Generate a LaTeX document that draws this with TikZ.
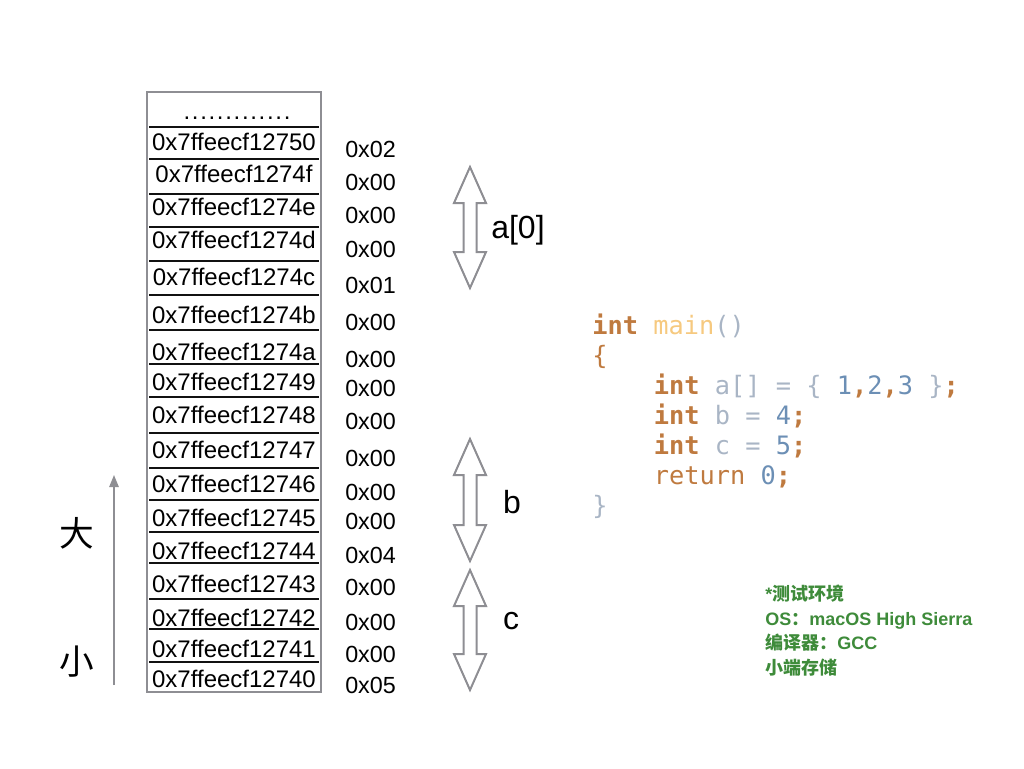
\documentclass[tikz,border=0pt]{standalone}
\usepackage{fontspec}
\setmainfont{Liberation Sans}
\setmonofont{DejaVu Sans Mono}
\newfontfamily\cjk{Noto Sans CJK SC}
\usetikzlibrary{arrows.meta}
\definecolor{MemInk}{HTML}{111111}
\definecolor{MemFrame}{HTML}{8E8E93}
\definecolor{CodeKey}{HTML}{BF7A3F}
\definecolor{CodeFunc}{HTML}{F6C97F}
\definecolor{CodePlain}{HTML}{A9B5C5}
\definecolor{CodeNum}{HTML}{6C8FB5}
\definecolor{NoteGreen}{HTML}{3E8B3A}
\tikzset{
  mem/frame/.style={draw=MemFrame, line width=1.5pt},
  mem/rule/.style={draw=MemInk, line width=1.4pt},
  mem/addr/.style={inner sep=0pt, anchor=base, font=\fontsize{18}{18}\selectfont},
  mem/val/.style={inner sep=0pt, anchor=base west, font=\fontsize{17.5}{17.5}\selectfont},
  mem/span/.style={draw=MemFrame, line width=1.5pt, line join=miter},
  mem/label/.style={inner sep=0pt, font=\fontsize{24}{24}\selectfont},
  mem/axis/.style={draw=MemFrame, line width=1.3pt, -{Triangle[length=9pt,width=7pt]}},
  mem/size/.style={inner sep=0pt, font=\cjk\fontsize{26}{26}\selectfont},
  code/line/.style={inner sep=0pt, anchor=base west, font=\ttfamily\fontsize{19}{19}\selectfont},
  note/line/.style={inner sep=0pt, anchor=base west, text=NoteGreen,
    font=\bfseries\fontsize{13.5}{13.5}\selectfont}
}
\newcommand\kw[1]{\textcolor{CodeKey}{\bfseries #1}}
\newcommand\num[1]{\textcolor{CodeNum}{#1}}
\newcommand\plain[1]{\textcolor{CodePlain}{#1}}

\begin{document}
\begin{tikzpicture}[x=0.75pt,y=-0.75pt]
  \useasboundingbox (0,0) rectangle (1024,768);
  \coordinate (stackNW) at (147,92);
  \coordinate (stackSE) at (321,692);
  \draw[mem/frame] (stackNW) rectangle (stackSE);
  \foreach \y in {127,159,194,227,261,295,330,364,397,433,468,500,532,563,599,629,662}
    \draw[mem/rule] (149,\y) -- (319,\y);
  \node[mem/addr] (dots) at (237,119) {\addfontfeature{LetterSpace=7}.............};
  \foreach \y/\name/\yv/\v in {150/50/157/02,182/4f/190/00,215/4e/223/00,248/4d/257/00,
      285/4c/293/01,323/4b/330/00,360/4a/367/00,390/49/396/00,423/48/429/00,
      458/47/466/00,492/46/500/00,526/45/529/00,559/44/563/04,592/43/595/00,
      626/42/630/00,657/41/662/00,687/40/693/05}{
    \node[mem/addr] (addr\name) at (234,\y) {0x7ffeecf127\name};
    \node[mem/val] (val\name) at (345,\yv) {0x\v};
  }
  \foreach \t/\b in {167/288,439/561,570/690}
    \draw[mem/span] (470,\t) -- (486,\t+36) -- (476.5,\t+36) -- (476.5,\b-36)
      -- (486,\b-36) -- (470,\b) -- (454,\b-36) -- (463.5,\b-36)
      -- (463.5,\t+36) -- (454,\t+36) -- cycle;
  \node[mem/label,anchor=west] (spanA) at (491,230) {a[0]};
  \node[mem/label] (spanB) at (512,502) {b};
  \node[mem/label] (spanC) at (511,621) {c};
  \coordinate (low) at (114,685);
  \coordinate (high) at (114,475);
  \draw[mem/axis] (low) -- (high);
  \node[mem/size] (big) at (77,533) {大};
  \node[mem/size] (small) at (77,662) {小};
  \node[code/line] (line1) at (592,334) {\kw{int} \textcolor{CodeFunc}{main}\plain{()}};
  \node[code/line] (line2) at (592,364) {\textcolor{CodeKey}{\{}};
  \node[code/line] (line3) at (653.5,394)
    {\kw{int} \plain{a[] = \{} \num{1}\kw{,}\num{2}\kw{,}\num{3} \plain{\}}\kw{;}};
  \node[code/line] (line4) at (653.5,424) {\kw{int} \plain{b =} \num{4}\kw{;}};
  \node[code/line] (line5) at (653.5,454) {\kw{int} \plain{c =} \num{5}\kw{;}};
  \node[code/line] (line6) at (653.5,484)
    {\textcolor{CodeKey}{return} \num{0}\kw{;}};
  \node[code/line] (line7) at (592,514) {\plain{\}}};
  \node[note/line] (note1) at (765,600) {*{\cjk 测试环境}};
  \node[note/line] (note2) at (765,625) {OS{\cjk ：}macOS High Sierra};
  \node[note/line] (note3) at (765,649) {{\cjk 编译器：}GCC};
  \node[note/line] (note4) at (765,674) {{\cjk 小端存储}};
\end{tikzpicture}
\end{document}
